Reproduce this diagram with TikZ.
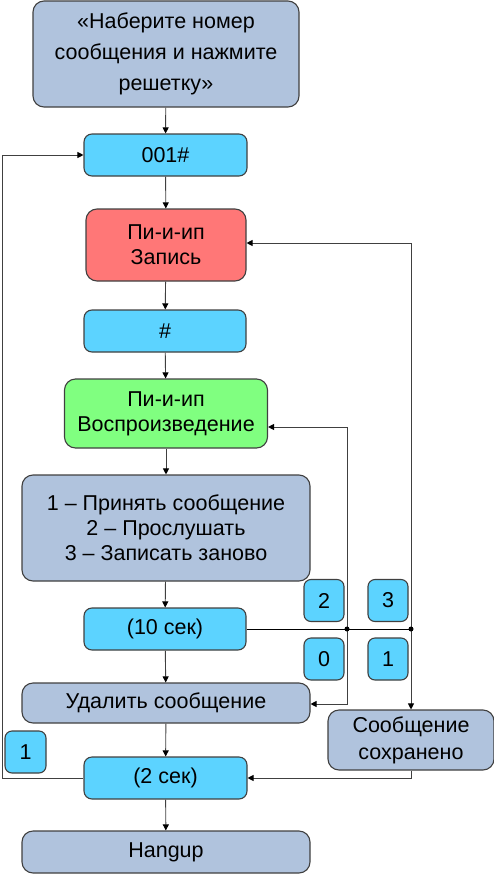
\documentclass[tikz,border=0pt]{standalone}
\usepackage{fontspec}
\setmainfont{Liberation Sans}
\usetikzlibrary{arrows.meta}
\definecolor{boxgray}{HTML}{B0C3DD}
\definecolor{boxcyan}{HTML}{5CD3FF}
\definecolor{boxred}{HTML}{FF7777}
\definecolor{boxgreen}{HTML}{80FF80}
\definecolor{edge}{HTML}{404040}
\begin{document}
\begin{tikzpicture}[x=1pt,y=-1pt,
  base/.style={draw=edge,line width=1.1pt,rounded corners=11pt,align=center,inner sep=0pt,
    font=\fontsize{21.5}{25}\selectfont,text=black},
  gbox/.style={base,fill=boxgray},
  cbox/.style={base,fill=boxcyan,rounded corners=8pt},
  rbox/.style={base,fill=boxred},
  grbox/.style={base,fill=boxgreen},
  key/.style={base,fill=boxcyan,rounded corners=7pt,minimum width=40pt,minimum height=42pt},
  conn/.style={draw=edge,line width=0.9pt,-{Triangle[length=6pt,width=6pt,fill=black,color=black]}},
  line/.style={draw=black,line width=0.9pt},
  dot/.style={circle,fill=black,inner sep=0pt,minimum size=5pt}
]
\useasboundingbox (0,0) rectangle (494,875);
\node[gbox,minimum width=266pt,minimum height=106pt,font=\fontsize{21.5}{31}\selectfont] (top) at (166,54) {«Наберите номер\\сообщения и нажмите\\решетку»};
\node[cbox,minimum width=163pt,minimum height=42pt] (n001) at (165.5,155) {001\#};
\node[rbox,minimum width=160pt,minimum height=72pt] (rec) at (166,245) {Пи-и-ип\\Запись};
\node[cbox,minimum width=162pt,minimum height=42pt] (hash) at (165,331) {\#};
\node[grbox,minimum width=203pt,minimum height=69pt] (play) at (166,413.5) {Пи-и-ип\\Воспроизведение};
\node[gbox,minimum width=288pt,minimum height=106pt] (menu) at (166,528) {1 – Принять сообщение\\2 – Прослушать\\3 – Записать заново};
\node[cbox,minimum width=162pt,minimum height=42pt] (t10) at (165,629) {(10 сек)};
\node[gbox,minimum width=288pt,minimum height=40pt] (del) at (166,703) {Удалить сообщение};
\node[cbox,minimum width=163pt,minimum height=42pt] (t2) at (165.5,778) {(2 сек)};
\node[gbox,minimum width=288pt,minimum height=42pt] (hang) at (166,852) {Hangup};
\node[gbox,minimum width=166pt,minimum height=60pt,font=\fontsize{21.5}{27}\selectfont] (saved) at (411,740) {Сообщение\\сохранено};

\node[key] (k2) at (324,600.5) {2};
\node[key] (k3) at (388,600.5) {3};
\node[key] (k0) at (324,659) {0};
\node[key] (k1) at (388,659) {1};
\node[key,minimum width=41pt] (kl) at (25.5,752) {1};

\coordinate (d1) at (347,629);
\coordinate (d2) at (411,629);

\draw[conn] (top) -- (n001);
\draw[conn] (n001) -- (rec);
\draw[conn] (rec) -- (hash);
\draw[conn] (hash) -- (play);
\draw[conn] (play) -- (menu);
\draw[conn] (menu) -- (t10);
\draw[conn] (t10) -- (del);
\draw[conn] (del) -- (t2);
\draw[conn] (t2) -- (hang);

\draw[line] (t10.east) -- (d2);
\draw[conn] (d1) -- (347,427) -- (play.east |- 0,427);
\draw[conn] (d1) -- (347,704) -- (del.east |- 0,704);
\draw[conn] (d2) -- (411,243) -- (rec.east |- 0,243);
\draw[conn] (d2) -- (saved.north);
\draw[conn] (saved.south) -- (411,778) -- (t2.east);
\draw[conn] (t2.west) -- (2,778) -- (2,155) -- (n001.west);

\node[dot] at (d1) {};
\node[dot] at (d2) {};
\end{tikzpicture}
\end{document}
